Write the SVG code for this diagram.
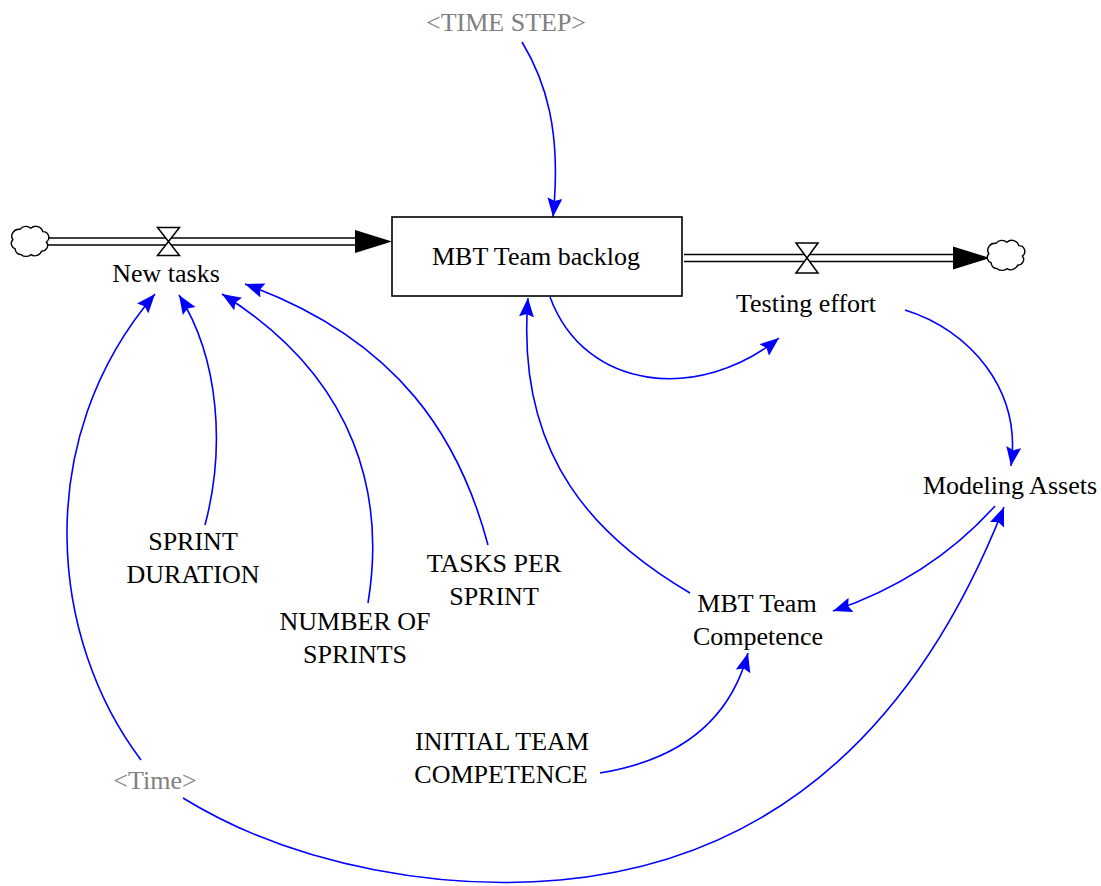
<svg xmlns="http://www.w3.org/2000/svg" width="1101" height="886" viewBox="0 0 1101 886">
<style>
text{font-family:"Liberation Serif","Times New Roman",serif;font-size:26px;fill:#000;text-anchor:middle}
.shadow{fill:#808080}
.link{fill:none;stroke:#0000ff;stroke-width:1.6}
.pipe{stroke:#000;stroke-width:1.6;fill:none}
.cloud{fill:#fff;stroke:#000;stroke-width:1.2}
.valve{fill:#fff;stroke:#000;stroke-width:1.5}
</style>
<defs>
<marker id="ah" markerUnits="userSpaceOnUse" markerWidth="20" markerHeight="16" refX="19" refY="7.5" orient="auto">
<path d="M0,0 L19,7.5 L0,15 L3,7.5 z" fill="#0000ff"/>
</marker>
<path id="cloudShape" d="M-14,6 a5,5 0 0 1 -2,-8 a6,6 0 0 1 6,-9 a6,6 0 0 1 9,-1 a6,6 0 0 1 10,3 a5,5 0 0 1 3,9 a5,5 0 0 1 -4,8 a6,6 0 0 1 -9,3 a6,6 0 0 1 -8,0 a5,5 0 0 1 -5,-5 z"/>
<path id="valveShape" d="M-11,-14 L11,-14 L-11,14 L11,14 z"/>
</defs>

<g id="connectors">
<path class="link" marker-end="url(#ah)" d="M522,42 C545,80 562,130 553,217"/>
<path class="link" marker-end="url(#ah)" d="M550,297 C585,392 700,402 779,338"/>
<path class="link" marker-end="url(#ah)" d="M690,593 C600,540 515,460 528,298"/>
<path class="link" marker-end="url(#ah)" d="M905,310 C970,330 1022,390 1011,466"/>
<path class="link" marker-end="url(#ah)" d="M995,506 C960,545 910,585 833,611"/>
<path class="link" marker-end="url(#ah)" d="M600,773 C680,760 730,720 748,653"/>
<path class="link" marker-end="url(#ah)" d="M183,798 C300,870 450,890 560,880 C780,860 920,720 1004,507"/>
<path class="link" marker-end="url(#ah)" d="M141,760 C50,640 30,440 155,294"/>
<path class="link" marker-end="url(#ah)" d="M205,525 C225,450 220,360 179,295"/>
<path class="link" marker-end="url(#ah)" d="M368,603 C385,500 360,380 222,294"/>
<path class="link" marker-end="url(#ah)" d="M488,545 C460,440 400,340 245,284"/>
</g>

<g id="inflow-pipe">
<line class="pipe" x1="48" y1="238" x2="356" y2="238"/>
<line class="pipe" x1="48" y1="245" x2="356" y2="245"/>
<path d="M355,230 L392,241.5 L355,253 z" fill="#000"/>
</g>
<g id="outflow-pipe">
<line class="pipe" x1="684" y1="254.5" x2="954" y2="254.5"/>
<line class="pipe" x1="684" y1="261.5" x2="954" y2="261.5"/>
<path d="M953,246.5 L990,258 L953,269.5 z" fill="#000"/>
</g>

<g id="source-cloud"><use href="#cloudShape" class="cloud" transform="translate(32,242) scale(1.2,1.15)"/></g>
<g id="sink-cloud"><use href="#cloudShape" class="cloud" transform="translate(1008,256) scale(1.2,1.15)"/></g>

<g id="new-tasks">
<use href="#valveShape" class="valve" transform="translate(168.5,241.5)"/>
<text x="166" y="282">New tasks</text>
</g>

<g id="testing-effort">
<use href="#valveShape" class="valve" transform="translate(807,258) scale(1,1.07)"/>
<text x="806" y="312">Testing effort</text>
</g>

<g id="mbt-team-backlog">
<rect x="392" y="217" width="290" height="79" fill="#fff" stroke="#000" stroke-width="1.6"/>
<text x="536" y="265">MBT Team backlog</text>
</g>

<g id="time-step"><text class="shadow" x="506" y="31">&lt;TIME STEP&gt;</text></g>
<g id="modeling-assets"><text x="1010" y="494">Modeling Assets</text></g>
<g id="sprint-duration"><text x="193" y="550">SPRINT</text><text x="193" y="583">DURATION</text></g>
<g id="number-of-sprints"><text x="355" y="630">NUMBER OF</text><text x="355" y="663">SPRINTS</text></g>
<g id="tasks-per-sprint"><text x="494" y="572">TASKS PER</text><text x="494" y="605">SPRINT</text></g>
<g id="mbt-team-competence"><text x="757" y="612">MBT Team</text><text x="758" y="645">Competence</text></g>
<g id="initial-team-competence"><text x="502" y="750">INITIAL TEAM</text><text x="501" y="783">COMPETENCE</text></g>
<g id="time"><text class="shadow" x="155" y="789">&lt;Time&gt;</text></g>
</svg>
